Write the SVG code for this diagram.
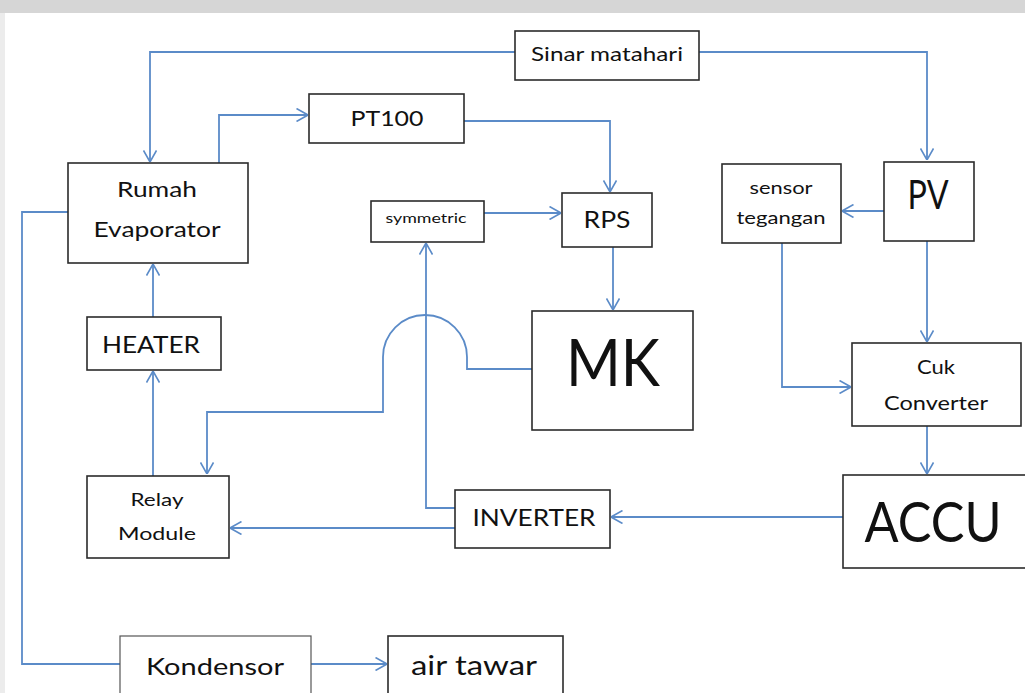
<svg xmlns="http://www.w3.org/2000/svg" width="1025" height="693" viewBox="0 0 1025 693">
<style>
.box{fill:#fff;stroke:#2b2b2b;stroke-width:1.6}
.box2{fill:#fff;stroke:#555;stroke-width:1.2}
.t{font-family:Lato,"Open Sans","Liberation Sans",sans-serif;fill:#111;text-anchor:middle}
.c{fill:none;stroke:#5b8bc8;stroke-width:1.8}
</style>
<defs>
<marker id="ar" viewBox="0 0 12 14" refX="12" refY="7" markerWidth="12" markerHeight="14" markerUnits="userSpaceOnUse" orient="auto">
<path d="M0.5,0.5 L12,7 L0.5,13.5" fill="none" stroke="#5b8bc8" stroke-width="1.6"/>
</marker>
</defs>
<rect width="1025" height="693" fill="#fff"/>
<rect x="0" y="0" width="1025" height="13" fill="#d6d6d6"/>
<rect x="0" y="13" width="5" height="680" fill="#ececec"/>

<g id="connectors">
<path class="c" d="M515,52 H150 V162" marker-end="url(#ar)"/>
<path class="c" d="M699,52 H927 V160" marker-end="url(#ar)"/>
<path class="c" d="M219,163 V115 H308" marker-end="url(#ar)"/>
<path class="c" d="M464,121 H610 V192" marker-end="url(#ar)"/>
<path class="c" d="M484,213 H561" marker-end="url(#ar)"/>
<path class="c" d="M613,247 V310" marker-end="url(#ar)"/>
<path class="c" d="M532,369 H467 V357 A42,42 0 0 0 383,357 V412 H207 V474" marker-end="url(#ar)"/>
<path class="c" d="M455,508 H426 V243" marker-end="url(#ar)"/>
<path class="c" d="M455,528 H230" marker-end="url(#ar)"/>
<path class="c" d="M843,517 H611" marker-end="url(#ar)"/>
<path class="c" d="M927,426 V474" marker-end="url(#ar)"/>
<path class="c" d="M927,241 V342" marker-end="url(#ar)"/>
<path class="c" d="M884,211 H842" marker-end="url(#ar)"/>
<path class="c" d="M782,243 V387 H851" marker-end="url(#ar)"/>
<path class="c" d="M153,317 V264" marker-end="url(#ar)"/>
<path class="c" d="M153,476 V371" marker-end="url(#ar)"/>
<path class="c" d="M68,212 H22 V664 H120"/>
<path class="c" d="M311,664 H387" marker-end="url(#ar)"/>
</g>

<g id="sinar"><rect class="box" x="515" y="31" width="184" height="49"/><text class="t" x="607" y="61" font-size="20" textLength="152" lengthAdjust="spacingAndGlyphs">Sinar matahari</text></g>
<g id="pt100"><rect class="box" x="309" y="94" width="155" height="49"/><text class="t" x="387" y="126" font-size="21" textLength="73" lengthAdjust="spacingAndGlyphs">PT100</text></g>
<g id="rumah"><rect class="box" x="68" y="163" width="180" height="100"/><text class="t" x="157" y="197" font-size="22" textLength="80" lengthAdjust="spacingAndGlyphs">Rumah</text><text class="t" x="157" y="237" font-size="22" textLength="127" lengthAdjust="spacingAndGlyphs">Evaporator</text></g>
<g id="symmetric"><rect class="box" x="371" y="201" width="113" height="41"/><text class="t" x="426" y="223" font-size="13" textLength="81" lengthAdjust="spacingAndGlyphs">symmetric</text></g>
<g id="rps"><rect class="box" x="562" y="193" width="90" height="54"/><text class="t" x="607" y="228" font-size="24" textLength="47" lengthAdjust="spacingAndGlyphs">RPS</text></g>
<g id="heater"><rect class="box" x="87" y="317" width="134" height="53"/><text class="t" x="151" y="353" font-size="24" textLength="98" lengthAdjust="spacingAndGlyphs">HEATER</text></g>
<g id="mk"><rect class="box" x="532" y="311" width="161" height="119"/><text class="t" x="613" y="386" font-size="66" textLength="94" lengthAdjust="spacingAndGlyphs">MK</text></g>
<g id="sensor"><rect class="box" x="722" y="164" width="119" height="79"/><text class="t" x="781" y="194" font-size="17" textLength="63" lengthAdjust="spacingAndGlyphs">sensor</text><text class="t" x="781" y="224" font-size="17" textLength="89" lengthAdjust="spacingAndGlyphs">tegangan</text></g>
<g id="pv"><rect class="box" x="884" y="162" width="90" height="79"/><text class="t" x="928" y="209" font-size="40" textLength="41" lengthAdjust="spacingAndGlyphs">PV</text></g>
<g id="cuk"><rect class="box" x="852" y="343" width="169" height="83"/><text class="t" x="936" y="374" font-size="19" textLength="38" lengthAdjust="spacingAndGlyphs">Cuk</text><text class="t" x="936" y="410" font-size="19" textLength="104" lengthAdjust="spacingAndGlyphs">Converter</text></g>
<g id="accu"><rect class="box" x="843" y="475" width="190" height="93"/><text class="t" x="933" y="542" font-size="56" textLength="137" lengthAdjust="spacingAndGlyphs">ACCU</text></g>
<g id="relay"><rect class="box" x="87" y="476" width="142" height="82"/><text class="t" x="157" y="506" font-size="18" textLength="53" lengthAdjust="spacingAndGlyphs">Relay</text><text class="t" x="157" y="540" font-size="18" textLength="78" lengthAdjust="spacingAndGlyphs">Module</text></g>
<g id="inverter"><rect class="box" x="455" y="490" width="155" height="58"/><text class="t" x="534" y="526" font-size="23" textLength="123" lengthAdjust="spacingAndGlyphs">INVERTER</text></g>
<g id="kondensor"><rect class="box2" x="120" y="636" width="191" height="60"/><text class="t" x="215" y="675" font-size="24" textLength="138" lengthAdjust="spacingAndGlyphs">Kondensor</text></g>
<g id="airtawar"><rect class="box" x="388" y="636" width="175" height="60"/><text class="t" x="474" y="675" font-size="27" textLength="126" lengthAdjust="spacingAndGlyphs">air tawar</text></g>
</svg>
